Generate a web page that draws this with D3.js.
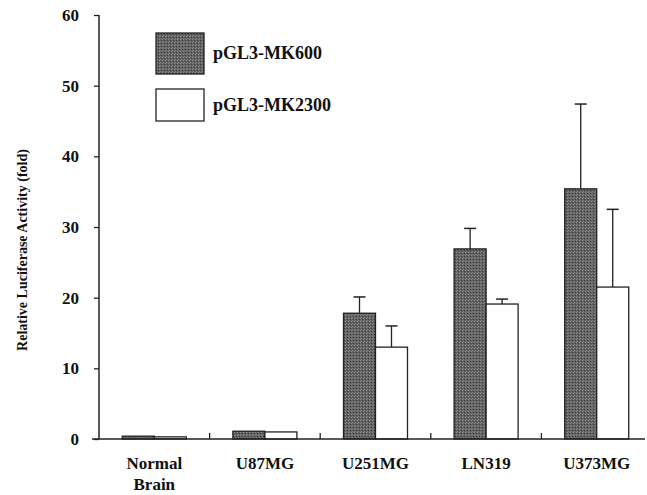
<!DOCTYPE html>
<html>
<head>
<meta charset="utf-8">
<script src="https://cdn.jsdelivr.net/npm/d3@7"></script>
<style>
  body { margin: 0; background: #fff; }
  svg text { font-family: "Liberation Serif", "DejaVu Serif", serif; font-weight: bold; fill: #111; }
</style>
</head>
<body>
<svg id="chart" width="647" height="495"></svg>
<script>
const categories = ['Normal Brain', 'U87MG', 'U251MG', 'LN319', 'U373MG']
const seriesNames = ['pGL3-MK600', 'pGL3-MK2300']
const mk600 = [0.4, 1.1, 17.8, 26.9, 35.4]
const mk600Err = [0, 0, 2.3, 2.9, 12.0]
const mk2300 = [0.3, 1.0, 13.0, 19.1, 21.5]
const mk2300Err = [0, 0, 3.0, 0.7, 11.0]
const yTicks = [0, 10, 20, 30, 40, 50, 60]

let svg = d3.select('#chart')
let colors = {dark: '#626262', light: '#ffffff', stroke: '#222'}

let x = d3.scaleBand().domain(categories).range([99, 652]).padding(0)
let y = d3.scaleLinear().domain([0, 60]).range([439, 15])
let barW = 32

// stippled fill like the scanned print
let pat = svg.append('defs').append('pattern')
  .attr('id', 'stipple')
  .attr('width', 3).attr('height', 3)
  .attr('patternUnits', 'userSpaceOnUse')
pat.append('rect').attr('width', 3).attr('height', 3).attr('fill', colors.dark)
pat.append('rect').attr('x', 0).attr('y', 0).attr('width', 1).attr('height', 1).attr('fill', '#8e8e8e')
pat.append('rect').attr('x', 2).attr('y', 1).attr('width', 1).attr('height', 1).attr('fill', '#3c3c3c')
pat.append('rect').attr('x', 1).attr('y', 2).attr('width', 1).attr('height', 1).attr('fill', '#7e7e7e')

let rows = categories.map((c, i) => ({
  cat: c,
  vals: [
    {s: 0, v: mk600[i], e: mk600Err[i]},
    {s: 1, v: mk2300[i], e: mk2300Err[i]}
  ]
}))

let groups = svg.selectAll('g.grp').data(rows).enter().append('g')
  .attr('class', 'grp')

groups.each(function (d) {
  let cx = x(d.cat) + x.bandwidth() / 2
  let g = d3.select(this)
  d.vals.forEach(function (b) {
    let x0 = b.s === 0 ? cx - barW : cx
    if (b.e > 0) {
      g.append('line')
        .attr('x1', x0 + barW / 2).attr('x2', x0 + barW / 2)
        .attr('y1', y(b.v)).attr('y2', y(b.v + b.e))
        .attr('stroke', colors.stroke).attr('stroke-width', 1.3)
      g.append('line')
        .attr('x1', x0 + barW / 2 - 6).attr('x2', x0 + barW / 2 + 6)
        .attr('y1', y(b.v + b.e)).attr('y2', y(b.v + b.e))
        .attr('stroke', colors.stroke).attr('stroke-width', 1.5)
    }
    g.append('rect')
      .attr('x', x0)
      .attr('y', y(b.v))
      .attr('width', barW)
      .attr('height', y(0) - y(b.v))
      .attr('fill', b.s === 0 ? 'url(#stipple)' : colors.light)
      .attr('stroke', colors.stroke)
      .attr('stroke-width', 1.3)
  })
})

// y axis
let yAxis = svg.append('g')
  .attr('transform', 'translate(99,0)')
  .call(d3.axisLeft(y).tickValues(yTicks).tickSize(5).tickPadding(15))
yAxis.select('.domain').attr('stroke', colors.stroke).attr('stroke-width', 1.5)
  .attr('d', 'M0,' + y(60) + 'V' + y(0))
yAxis.selectAll('.tick line').attr('stroke', colors.stroke).attr('stroke-width', 1.3)
yAxis.selectAll('.tick text').style('font-size', '17px')

// x axis: baseline plus separators between groups
svg.append('line')
  .attr('x1', 92).attr('x2', 645)
  .attr('y1', y(0)).attr('y2', y(0))
  .attr('stroke', colors.stroke).attr('stroke-width', 1.5)
svg.selectAll('line.sep').data(categories.slice(1)).enter().append('line')
  .attr('class', 'sep')
  .attr('x1', d => x(d)).attr('x2', d => x(d))
  .attr('y1', y(0)).attr('y2', y(0) - 6)
  .attr('stroke', colors.stroke).attr('stroke-width', 1.3)

let xLab = svg.selectAll('text.xl').data(categories).enter().append('text')
  .attr('class', 'xl')
  .attr('text-anchor', 'middle')
  .style('font-size', '17px')
  .attr('x', d => x(d) + x.bandwidth() / 2)
  .attr('y', 469)
xLab.each(function (d) {
  let parts = d === 'Normal Brain' ? ['Normal', 'Brain'] : [d]
  let t = d3.select(this)
  parts.forEach((p, i) => {
    t.append('tspan').attr('x', t.attr('x')).attr('dy', i === 0 ? 0 : 21).text(p)
  })
})

// y label
svg.append('text')
  .attr('transform', 'translate(22,250) rotate(-90)')
  .attr('text-anchor', 'middle')
  .attr('dy', '0.35em')
  .style('font-size', '14px')
  .text('Relative Luciferase Activity (fold)')

// legend
let legend = svg.selectAll('g.leg').data(seriesNames).enter().append('g')
  .attr('class', 'leg')
  .attr('transform', (d, i) => 'translate(156,' + (i === 0 ? 33 : 89) + ')')
legend.append('rect')
  .attr('width', 48)
  .attr('height', (d, i) => i === 0 ? 41 : 32)
  .attr('fill', (d, i) => i === 0 ? 'url(#stipple)' : colors.light)
  .attr('stroke', colors.stroke)
  .attr('stroke-width', 1.3)
legend.append('text')
  .attr('x', 57)
  .attr('y', (d, i) => i === 0 ? 26 : 22)
  .style('font-size', '18px')
  .text(d => d)
</script>
</body>
</html>
